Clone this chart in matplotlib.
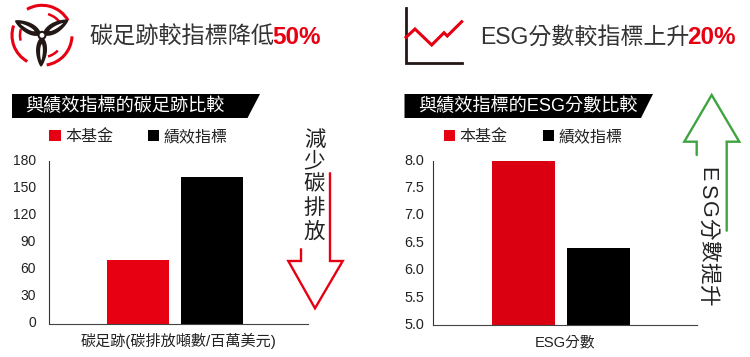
import numpy as np
import matplotlib
matplotlib.use("Agg")
import matplotlib.pyplot as plt
from matplotlib.patches import Arc, Polygon, Rectangle
from matplotlib.transforms import ScaledTranslation

plt.rcParams["font.family"] = ["Liberation Sans", "Noto Sans CJK TC"]

# data
series_names = ["本基金", "績效指標"]
carbon_values = [70.5, 162.5]
esg_values = [8.0, 6.4]
carbon_ticks = [0, 30, 60, 90, 120, 150, 180]
esg_ticks = [5.0, 5.5, 6.0, 6.5, 7.0, 7.5, 8.0]
carbon_xlabel = "碳足跡(碳排放噸數/百萬美元)"
esg_xlabel = "ESG分數"
carbon_title = "與績效指標的碳足跡比較"
esg_title = "與績效指標的ESG分數比較"

RED = "#E60012"
RED2 = "#DA0012"
DARK = "#231815"
GREEN = "#3FA340"
W, H = 750, 357

fig = plt.figure(figsize=(7.5, 3.57), dpi=100)


def make_axes(x0, y0, x1, y1):
    return fig.add_axes([x0 / W, 1 - y1 / H, (x1 - x0) / W, (y1 - y0) / H])


def bar_chart(ax, values, colors, ticks, labels, ylim, xlim, xlabel, size, xsize, pad):
    ax.bar([0, 1], values, width=0.84, color=colors)
    ax.set_xlim(xlim)
    ax.set_ylim(ylim)
    ax.set_xticks([])
    ax.set_yticks(ticks)
    ax.set_yticklabels(labels, fontsize=size, color="#222222")
    ax.tick_params(axis="y", length=0, pad=pad)
    # labels sit a little above their tick in the original
    shift = ScaledTranslation(0, 1.6 / 100, fig.dpi_scale_trans)
    for lab in ax.get_yticklabels():
        lab.set_transform(lab.get_transform() + shift)
    ax.spines["top"].set_visible(False)
    ax.spines["right"].set_visible(False)
    ax.spines["left"].set_color("#333333")
    ax.spines["bottom"].set_color("#444444")
    ax.set_xlabel(xlabel, fontsize=xsize, color="#222222", labelpad=7)
    ax.patch.set_alpha(0)


ax1 = make_axes(49, 161.5, 308, 323.5)
bar_chart(ax1, carbon_values, [RED, "black"], carbon_ticks,
          [str(t) for t in carbon_ticks], (0, 180), (-1.2, 2.3), carbon_xlabel, 10, 10.9, 9.5)

ax2 = make_axes(433.3, 160.7, 696.7, 325.3)
bar_chart(ax2, esg_values, [RED2, "black"], esg_ticks,
          ["%.1f" % t for t in esg_ticks], (5, 8), (-1.205, 2.314), esg_xlabel, 10.4, 10.6, 6.5)

# everything else sits on a pixel overlay
ov = fig.add_axes([0, 0, 1, 1], zorder=5)
ov.set_xlim(0, W)
ov.set_ylim(H, 0)
ov.axis("off")

# headline texts
ov.text(89, 37.5, "碳足跡較指標降低", fontsize=16.7, color="#333333", va="center")
ov.text(272.5, 37.5, "50%", fontsize=17.5, color=RED, weight="bold", va="center")
ov.text(480, 37.5, "ESG分數較指標上升", fontsize=16.6, color="#333333", va="center")
ov.text(687.5, 37.5, "20%", fontsize=17.5, color=RED, weight="bold", va="center")

# banners
ov.add_patch(Polygon([(12, 94), (260, 94), (247.5, 118), (12, 118)], color="black", lw=0))
ov.add_patch(Polygon([(404.5, 94), (653, 94), (641, 118), (404.5, 118)], color="black", lw=0))
ov.text(25, 106, carbon_title, fontsize=13.1, color="white", va="center", weight="medium")
ov.text(418.5, 106, esg_title, fontsize=13.1, color="white", va="center", weight="medium")

# legends
legend_pos = [(49.3, 148), (443.7, 542.7)]
for red_x, black_x in legend_pos:
    ov.add_patch(Rectangle((red_x, 129.5), 11.3, 11.3, color=RED, lw=0))
    ov.add_patch(Rectangle((black_x, 129.5), 11.3, 11.3, color="black", lw=0))
    ov.text(red_x + 16, 136.3, series_names[0], fontsize=11.5, color="#222222", va="center")
    ov.text(black_x + 16, 136.3, series_names[1], fontsize=11.5, color="#222222", va="center")

# down arrow
ov.plot([301, 301, 288.3, 315, 342.7, 330, 330],
        [248.3, 261, 261, 308.3, 261, 261, 172.3],
        color=RED, lw=1.7, solid_joinstyle="miter", solid_capstyle="butt")
for ch, cy in zip("減少碳排放", [140, 162, 185, 209, 232]):
    ov.text(314.5, cy, ch, fontsize=15.5, color="#222222", ha="center", va="center")

# up arrow
ov.plot([696.7, 696.7, 684.3, 711.7, 739.3, 726.7, 726.7],
        [155, 141.7, 141.7, 95, 141.7, 141.7, 230.7],
        color=GREEN, lw=1.7, solid_joinstyle="miter", solid_capstyle="round")
for ch, cy in zip("ESG分數提升", [174, 191, 209, 229, 250.5, 273, 295]):
    ov.text(707, cy, ch, fontsize=15.5, color="#222222", rotation=-90,
            ha="center", va="center")

# chart icon
ov.plot([406, 406, 461.7], [8.3, 63.3, 63.3], color=DARK, lw=2, solid_joinstyle="miter")
ov.plot([406, 415, 431.7, 444, 447.3, 461.7], [37.3, 29, 45, 32.7, 36, 21.7],
        color=RED, lw=2.2, solid_joinstyle="miter")

# turbine icon
cx, cy = 42, 35.3
for r, a0, a1, lw in [(30, 29.5, 120, 2.2), (30, -81, -2, 2.2), (30, 161, 240.6, 2.2),
                      (22, 35, 74, 1.8), (22, 164, 194, 1.8), (22, -74, -44, 1.8)]:
    # y axis is flipped, so the angles are mirrored
    ov.add_patch(Arc((cx, cy), 2 * r, 2 * r, theta1=-a1, theta2=-a0, color=RED, lw=lw))

t = np.linspace(0, 1, 40)
for tip_x, tip_y in [(15, 20.7), (68.3, 20), (41, 66.7)]:
    dx, dy = tip_x - cx, tip_y - cy
    length = np.hypot(dx, dy)
    ux, uy = dx / length, dy / length
    for w, fill, s0, s1 in [(6, DARK, 0.05, 1.0), (1.5, "white", 0.28, 0.8)]:
        s = s0 + (s1 - s0) * t
        half = w * np.sin(np.pi * t) ** 0.6 * (1.1 - 0.4 * t)
        xs = np.concatenate([cx + ux * s * length - uy * half, (cx + ux * s * length + uy * half)[::-1]])
        ys = np.concatenate([cy + uy * s * length + ux * half, (cy + uy * s * length - ux * half)[::-1]])
        ov.fill(xs, ys, color=fill, lw=0)
ov.add_patch(plt.Circle((cx, cy), 4.5, color=DARK, lw=0))
ov.add_patch(plt.Circle((cx, cy), 2.4, color="white", lw=0))

plt.savefig("out.png", dpi=100)
